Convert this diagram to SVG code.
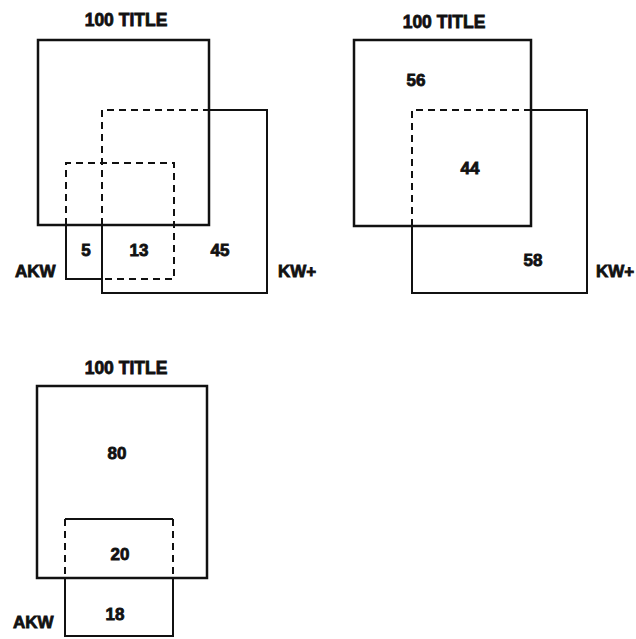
<svg xmlns="http://www.w3.org/2000/svg" width="636" height="639" viewBox="0 0 636 639">
<style>
text{font-family:"Liberation Sans",Arial,sans-serif;font-weight:bold;fill:#111;stroke:#111;stroke-width:0.8}
.t{font-size:17.5px;text-anchor:middle}
.n{font-size:17px;text-anchor:middle}
.l{font-size:17px}
.s{fill:none;stroke:#111;stroke-width:2.5}
.m{fill:none;stroke:#111;stroke-width:2}
.d{fill:none;stroke:#111;stroke-width:2;stroke-dasharray:7 5}
</style>
<rect width="636" height="639" fill="#fff"/>
<g id="panel1">
  <g id="p1-title"><rect class="s" x="38" y="40" width="171" height="185"/><text class="t" x="126" y="26">100 TITLE</text></g>
  <g id="p1-kw">
    <path class="d" d="M102,225 V110 H209"/>
    <path class="m" d="M209,110 H267 V293 H102 V225"/>
    <text class="l" x="278" y="277">KW+</text>
  </g>
  <g id="p1-akw">
    <path class="d" d="M66,225 V163 H174 V279 H102"/>
    <path class="m" d="M66,225 V279 H102"/>
    <text class="l" x="15" y="277">AKW</text>
  </g>
  <g id="p1-labels">
    <text class="n" x="86" y="256">5</text>
    <text class="n" x="139" y="256">13</text>
    <text class="n" x="220" y="256">45</text>
  </g>
</g>
<g id="panel2">
  <g id="p2-title"><rect class="s" x="354" y="40" width="177" height="186"/><text class="t" x="444" y="28">100 TITLE</text></g>
  <g id="p2-kw">
    <path class="d" d="M412,226 V110 H531"/>
    <path class="m" d="M531,110 H587 V293 H412 V226"/>
    <text class="l" x="596" y="277">KW+</text>
  </g>
  <g id="p2-labels">
    <text class="n" x="416" y="86">56</text>
    <text class="n" x="470" y="174">44</text>
    <text class="n" x="533" y="266">58</text>
  </g>
</g>
<g id="panel3">
  <g id="p3-title"><rect class="s" x="37" y="386" width="170" height="192"/><text class="t" x="126" y="374">100 TITLE</text></g>
  <g id="p3-akw">
    <path class="m" d="M65,519 H173"/>
    <path class="d" d="M65,519 V578 M173,519 V578"/>
    <path class="m" d="M65,578 V636 H173 V578"/>
    <text class="l" x="13" y="628">AKW</text>
  </g>
  <g id="p3-labels">
    <text class="n" x="117" y="459">80</text>
    <text class="n" x="120" y="560">20</text>
    <text class="n" x="115" y="620">18</text>
  </g>
</g>
</svg>
